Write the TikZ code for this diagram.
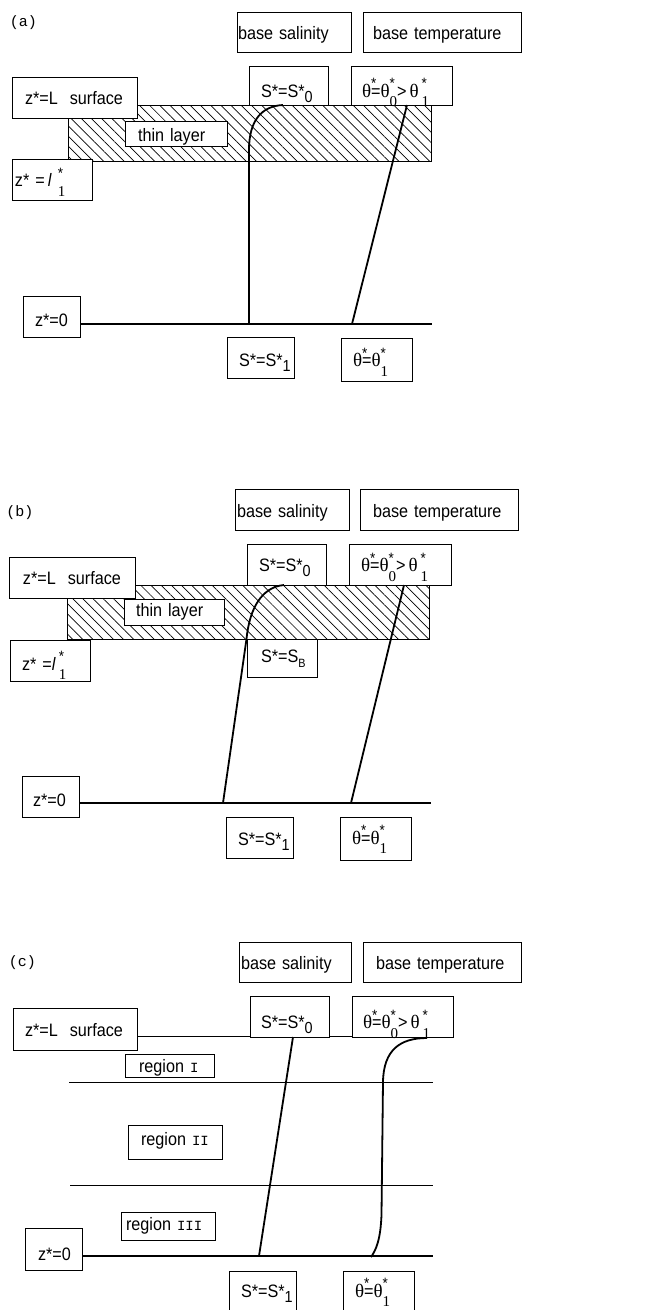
\documentclass[tikz,border=0pt]{standalone}
\usepackage{fontspec}
\setmainfont{Liberation Sans}[FakeStretch=0.9]
\newfontfamily\monof{Liberation Mono}
\newfontfamily\serf{Liberation Serif}
\usetikzlibrary{patterns.meta}
% subscripts / superscripts
\newcommand\Ssub[1]{\raisebox{-0.3em}{\fontsize{16}{16}\selectfont #1}}
\newcommand\tsup[1]{\raisebox{0.45em}{\fontsize{15}{15}\selectfont #1}}
\newcommand\tsub[1]{\raisebox{-0.55em}{\serf\fontsize{15}{15}\selectfont #1}}
\newcommand\tss[2]{\rlap{\tsup{#1}}\tsub{#2}}
\newcommand\thS{{\serf\fontsize{19}{19}\selectfont θ}}
\newcommand\rmn[1]{{\monof\fontsize{14}{15}\selectfont #1}}
\newcommand\thtop{\mbox{\thS\rlap{\tsup{*}}=\thS\tss{*}{0}>\,\thS\,\tss{*}{1}}}
\newcommand\thbot{\mbox{\thS\rlap{\tsup{*}}=\thS\tss{*}{1}}}
% box: name x1 y1 x2 y2 textheight pad content
\newcommand\bx[8]{%
  \pgfmathsetmacro\bxw{#4-#2}\pgfmathsetmacro\bxh{#5-#3}%
  \pgfmathsetmacro\bxcx{(#2+#4)/2}\pgfmathsetmacro\bxcy{(#3+#5)/2}%
  \pgfmathsetmacro\bxtw{#4-#2-2*#7}%
  \node[lbl,minimum width=\bxw pt,minimum height=\bxh pt,text width=\bxtw pt,text height=#6pt] (#1) at (\bxcx,\bxcy) {#8};}
\begin{document}
\begin{tikzpicture}[x=1pt,y=-1pt,
  lbl/.style={draw,fill=white,line width=0.9pt,inner sep=0pt,align=left,text depth=2pt,font=\fontsize{18}{20}\selectfont},
  plabel/.style={inner sep=0pt,font=\monof\fontsize{15}{17}\selectfont},
  prof/.style={line width=1.8pt},
  base/.style={line width=1.8pt},
  thinln/.style={line width=1pt},
  hatch/.style={draw,line width=1pt,pattern={Lines[angle=-45,distance=7.2pt,line width=0.7pt]}}]
\useasboundingbox (0,0) rectangle (649,1310);
\fill[white] (0,0) rectangle (649,1310);

% ================= (a) =================
\node[plabel] (pa) at (23.5,23) {(a)};
\path[hatch] (68,105) rectangle (431,161);
\bx{bsa}{237}{12}{351}{52}{16}{1}{base salinity}
\bx{bta}{363}{12}{521}{52}{16}{10}{base temperature}
\bx{s0a}{249}{66}{328}{105}{25}{12}{S*=S*\Ssub{0}}
\bx{t0a}{351}{66}{452}{105}{25}{11}{\thtop}
\bx{zLa}{12}{77}{137}{118}{15}{13}{z*=L\ \ surface}
\bx{thina}{125}{121}{227}{146}{18}{13}{thin layer}
\bx{zla}{12}{159}{92}{200}{16}{3}{\mbox{z* =\,\textit{l}\ \tss{*}{1}}}
\bx{z0a}{23}{296}{80}{337}{22}{12}{z*=0}
\bx{s1a}{227}{337}{294}{378}{20}{12}{S*=S*\Ssub{1}}
\bx{t1a}{341}{338}{412}{381}{16}{12}{\thbot}
\coordinate (ba0) at (z0a.east |- 0,324);
\coordinate (ba1) at (432,324);
\coordinate (sa0) at (283,105);
\coordinate (sa1) at (249,324);
\coordinate (ta0) at (407,105);
\coordinate (ta1) at (352,324);
\draw[base] (ba0) -- (ba1);
\draw[prof] (sa0) .. controls (262,106) and (249,120) .. (249,150) -- (sa1);
\draw[prof] (ta0) -- (ta1);

% ================= (b) =================
\node[plabel] (pb) at (20,513) {(b)};
\path[hatch] (67,585) rectangle (429,639);
\bx{bsb}{235}{489}{349}{530}{17}{2}{base salinity}
\bx{btb}{360}{489}{518}{530}{17}{13}{base temperature}
\bx{s0b}{247}{544}{326}{585}{16}{12}{S*=S*\Ssub{0}}
\bx{t0b}{349}{544}{451}{585}{16}{12}{\thtop}
\bx{zLb}{9}{557}{135}{598}{15}{14}{z*=L\ \ surface}
\bx{thinb}{124}{599}{224}{625}{10}{12}{thin layer}
\bx{zlb}{10}{640}{90}{681}{21}{12}{\mbox{z* =\textit{l}\,\tss{*}{1}}}
\bx{sBb}{247}{639}{317}{677}{10}{14}{\mbox{S*=S\Ssub{\fontsize{12}{12}\selectfont B}}}
\bx{z0b}{22}{776}{79}{817}{22}{11}{z*=0}
\bx{s1b}{226}{817}{293}{858}{17}{12}{S*=S*\Ssub{1}}
\bx{t1b}{340}{817}{411}{860}{13}{12}{\thbot}
\coordinate (bb0) at (z0b.east |- 0,803);
\coordinate (bb1) at (431,803);
\coordinate (sb0) at (284,585);
\coordinate (sbB) at (246.5,639);
\coordinate (sb1) at (223,803);
\coordinate (tb0) at (404,585);
\coordinate (tb1) at (351,803);
\draw[base] (bb0) -- (bb1);
\draw[prof] (sb0) .. controls (262,587) and (249.5,608) .. (sbB) -- (sb1);
\draw[prof] (tb0) -- (tb1);

% ================= (c) =================
\node[plabel] (pc) at (22.5,963) {(c)};
\coordinate (lc1a) at (69,1082);
\coordinate (lc1b) at (433,1082);
\coordinate (lc2a) at (70,1185);
\coordinate (lc2b) at (433,1185);
\draw[thinln] (lc1a) -- (lc1b);
\draw[thinln] (lc2a) -- (lc2b);
\bx{bsc}{239}{942}{351}{982}{17}{2}{base salinity}
\bx{btc}{363}{942}{521}{982}{17}{13}{base temperature}
\bx{zLc}{13}{1008}{137}{1050}{17}{12}{z*=L\ \ surface}
\coordinate (sc0) at (zLc.east |- 0,1036.5);
\coordinate (sc1) at (428,1036.5);
\draw[line width=1.5pt] (sc0) -- (sc1);
\bx{s0c}{250}{996}{329}{1037}{26}{11}{S*=S*\Ssub{0}}
\bx{t0c}{352}{996}{453}{1037}{26}{11}{\thtop}
\bx{r1}{125}{1054}{214}{1077}{16}{14}{region \rmn{I}}
\bx{r2}{128}{1125}{222}{1159}{8}{13}{region \rmn{II}}
\bx{r3}{121}{1212}{215}{1240}{10}{5}{region \rmn{III}}
\bx{z0c}{25}{1228}{82}{1270}{24}{13}{z*=0}
\bx{s1c}{229}{1271}{296}{1315}{10}{12}{S*=S*\Ssub{1}}
\bx{t1c}{343}{1271}{414}{1315}{10}{12}{\thbot}
\coordinate (bc0) at (z0c.east |- 0,1256);
\coordinate (bc1) at (433,1256);
\coordinate (ssc0) at (293,1037);
\coordinate (ssc1) at (259,1256);
\coordinate (tc0) at (427,1038);
\coordinate (tc1) at (371,1257);
\draw[base] (bc0) -- (bc1);
\draw[prof] (ssc0) -- (ssc1);
\draw[prof] (tc0) .. controls (400,1038) and (383.5,1050) .. (383,1082)
  -- (381.5,1215) .. controls (380.5,1240) and (376,1250) .. (tc1);
\end{tikzpicture}
\end{document}
